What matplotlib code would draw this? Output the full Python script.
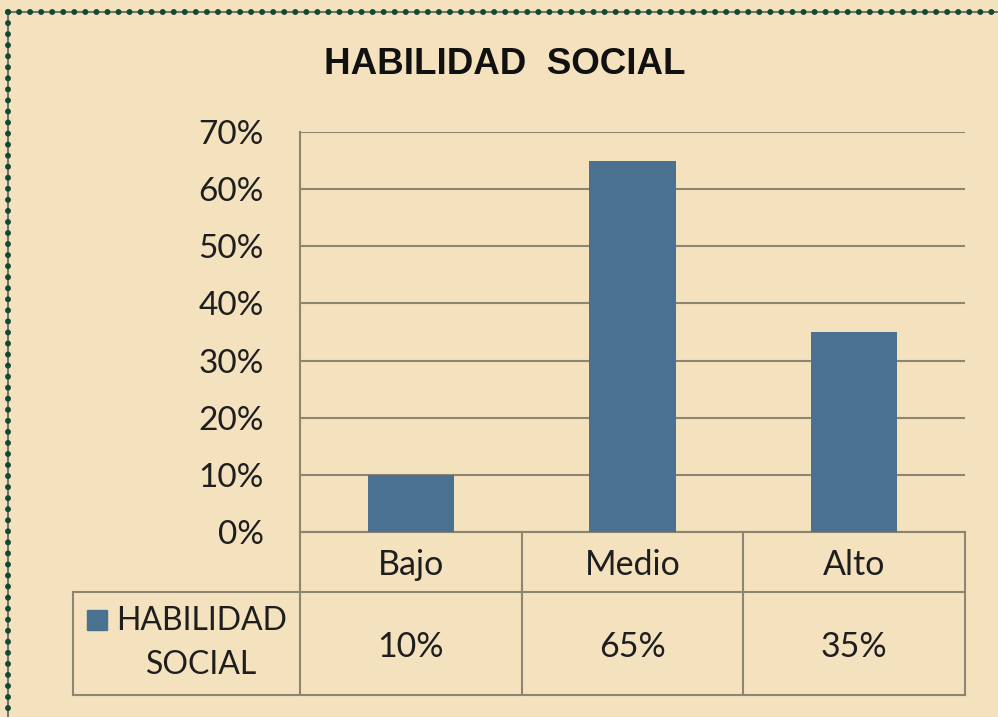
import matplotlib
matplotlib.use("Agg")
import matplotlib.pyplot as plt
from matplotlib.lines import Line2D
from matplotlib.ticker import PercentFormatter, MultipleLocator

# data
categories = ["Bajo", "Medio", "Alto"]
values = [0.10, 0.65, 0.35]
value_labels = ["10%", "65%", "35%"]
series_name = "HABILIDAD\nSOCIAL"
title = "HABILIDAD  SOCIAL"

BG = "#F4E2BF"
BAR = "#4A7190"
LINE = "#8C8572"
TXT = "#1E1E1E"
W, H = 998, 717

fig = plt.figure(figsize=(W / 100, H / 100), dpi=100, facecolor=BG)


def fx(px):
    return px / W


def fy(py):
    return 1 - py / H


# plot area in pixel coords: x 300-965, y 132-532
ax = fig.add_axes([fx(300), fy(532), fx(965) - fx(300), fy(132) - fy(532)])
ax.set_facecolor(BG)
x = range(len(categories))
ax.bar(x, values, width=0.39, color=BAR, zorder=3)
ax.set_xlim(-0.5, len(categories) - 0.5)
ax.set_ylim(0, 0.70)
ax.yaxis.set_major_locator(MultipleLocator(0.10))
ax.yaxis.set_major_formatter(PercentFormatter(1.0, decimals=0))
ax.grid(axis="y", color=LINE, linewidth=1.5, zorder=0)
ax.set_xticks([])
for s in ["top", "right", "bottom"]:
    ax.spines[s].set_visible(False)
ax.spines["left"].set_color(LINE)
ax.spines["left"].set_linewidth(1.5)
ax.tick_params(axis="y", length=0, pad=26, labelsize=24, labelcolor=TXT)
for lab in ax.get_yticklabels():
    lab.set_fontfamily("Lato")

# data table below the plot
tr = ax.get_xaxis_transform()
h_head = 60 / 400
h_row = 103 / 400
left_px = (73 - 300) / 665  # legend column, in axes fraction
y0, y1, y2 = 0, -h_head, -h_head - h_row
kw = dict(color=LINE, linewidth=1.5, clip_on=False)
n = len(categories)
ax.plot([-0.5, n - 0.5], [y0, y0], transform=tr, **kw)
ax.plot([left_px, 1], [y1, y1], transform=ax.transAxes, **kw)
ax.plot([left_px, 1], [y2, y2], transform=ax.transAxes, **kw)
ax.plot([left_px, left_px], [y1, y2], transform=ax.transAxes, **kw)
for b in range(n + 1):
    ax.plot([b - 0.5, b - 0.5], [y0, y2], transform=tr, **kw)
for i, (c, v) in enumerate(zip(categories, value_labels)):
    ax.text(i, (y0 + y1) / 2 - 0.008, c, transform=tr, ha="center", va="center",
            fontsize=24.5, family="Lato", color=TXT)
    ax.text(i, (y1 + y2) / 2 - 0.008, v, transform=tr, ha="center", va="center",
            fontsize=24.5, family="Lato", color=TXT)

# legend cell
fig.add_artist(Line2D([fx(97)], [fy(620)], marker="s", markersize=14.5,
                      color=BAR, linestyle="none"))
fig.text(fx(202), fy(643), series_name, ha="center", va="center",
         fontsize=23, family="Lato", color=TXT, linespacing=1.58)

# title
fig.text(fx(505), fy(65), title, ha="center", va="center",
         fontsize=26.5, fontweight="bold", family="Liberation Sans", color="#111111")

# dotted border (top and left visible)
bx, by = fx(8), fy(12)
for xs, ys in [([bx, 1.01], [by, by]), ([bx, bx], [by, -0.01])]:
    fig.add_artist(Line2D(xs, ys, color="#7A7462", linewidth=1.5))
    fig.add_artist(Line2D(xs, ys, color="#104A33", linewidth=4.3,
                          linestyle=(0, (0.01, 1.84)), dash_capstyle="round"))

fig.savefig("out.png", dpi=100, facecolor=BG)
